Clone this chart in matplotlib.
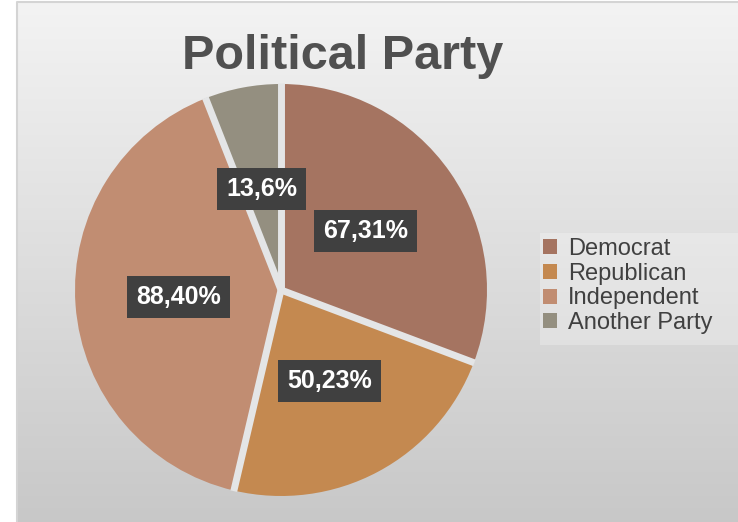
import numpy as np
import matplotlib
matplotlib.use("Agg")
import matplotlib.pyplot as plt
from matplotlib.patches import Rectangle

parties = ["Democrat", "Republican", "Independent", "Another Party"]
counts = [67, 50, 88, 13]
colors = ["#a57461", "#c48950", "#c18d72", "#948f80"]

W, H = 738, 522
GAP = "#e4e5e6"

plt.rcParams['font.family'] = ['Liberation Sans', 'DejaVu Sans']


def main():
    fig = plt.figure(figsize=(W / 100, H / 100), dpi=100)
    fig.patch.set_facecolor("white")

    # grey gradient panel behind the chart
    bg = fig.add_axes([17 / W, 0, 1 - 17 / W, 1 - 2 / H])
    grad = np.linspace(0.953, 0.784, 256).reshape(-1, 1)
    bg.imshow(np.dstack([grad, grad, grad]), aspect="auto", extent=(0, 1, 0, 1),
              interpolation="bilinear")
    bg.set_xlim(0, 1)
    bg.set_ylim(0, 1)
    bg.axis("off")
    bg.plot([0, 0, 1], [0, 1, 1], color="#d4d4d4", lw=1.5, clip_on=False)

    # pale band behind the legend
    fig.patches.append(Rectangle((540 / W, (H - 345) / H), (W - 540) / W, 112 / H,
                                 transform=fig.transFigure, fc="white", alpha=0.25,
                                 ec="none", zorder=1))

    # pie axes, centre at (281, 290) px, radius 206 px
    lim = 1.12
    r_px = 206
    cx, cy = 281, 290
    side = 2 * lim * r_px
    ax = fig.add_axes([(cx - lim * r_px) / W, (H - cy - lim * r_px) / H, side / W, side / H])

    total = sum(counts)

    def fmt(p):
        return f"{round(p * total / 100)},{p:.0f}%"

    wedges, texts, autotexts = ax.pie(
        counts, colors=colors, startangle=90, counterclock=False,
        radius=1.0, autopct=fmt, pctdistance=0.5,
        wedgeprops=dict(linewidth=0),
        textprops=dict(color="white", fontsize=18, fontweight="bold"),
    )
    # light separators between slices
    for w in wedges:
        a = np.deg2rad(w.theta1)
        ax.plot([0, 1.003 * np.cos(a)], [0, 1.003 * np.sin(a)], color=GAP, lw=5,
                solid_capstyle="butt", zorder=3)
    for t in autotexts:
        t.set_zorder(5)
        t.set_bbox(dict(boxstyle="square,pad=0.36", fc="#404040", ec="none"))
    ax.set_xlim(-lim, lim)
    ax.set_ylim(-lim, lim)
    ax.set_aspect("equal")
    ax.axis("off")

    fig.text(342.5 / W, (H - 69) / H, "Political Party", ha="center", va="baseline",
             fontsize=35, fontweight="bold", color="#505050")

    leg = fig.legend(wedges, parties, loc="center left",
                     bbox_to_anchor=(536 / W, (H - 286) / H),
                     fontsize=17, frameon=False, handlelength=0.6, handleheight=0.6,
                     handletextpad=0.45, labelspacing=0.12, borderpad=0.3,
                     borderaxespad=0)
    for txt in leg.get_texts():
        txt.set_color("#404040")
    for h in leg.legend_handles:
        h.set_linewidth(0)

    fig.savefig("out.png", dpi=100)


main()
